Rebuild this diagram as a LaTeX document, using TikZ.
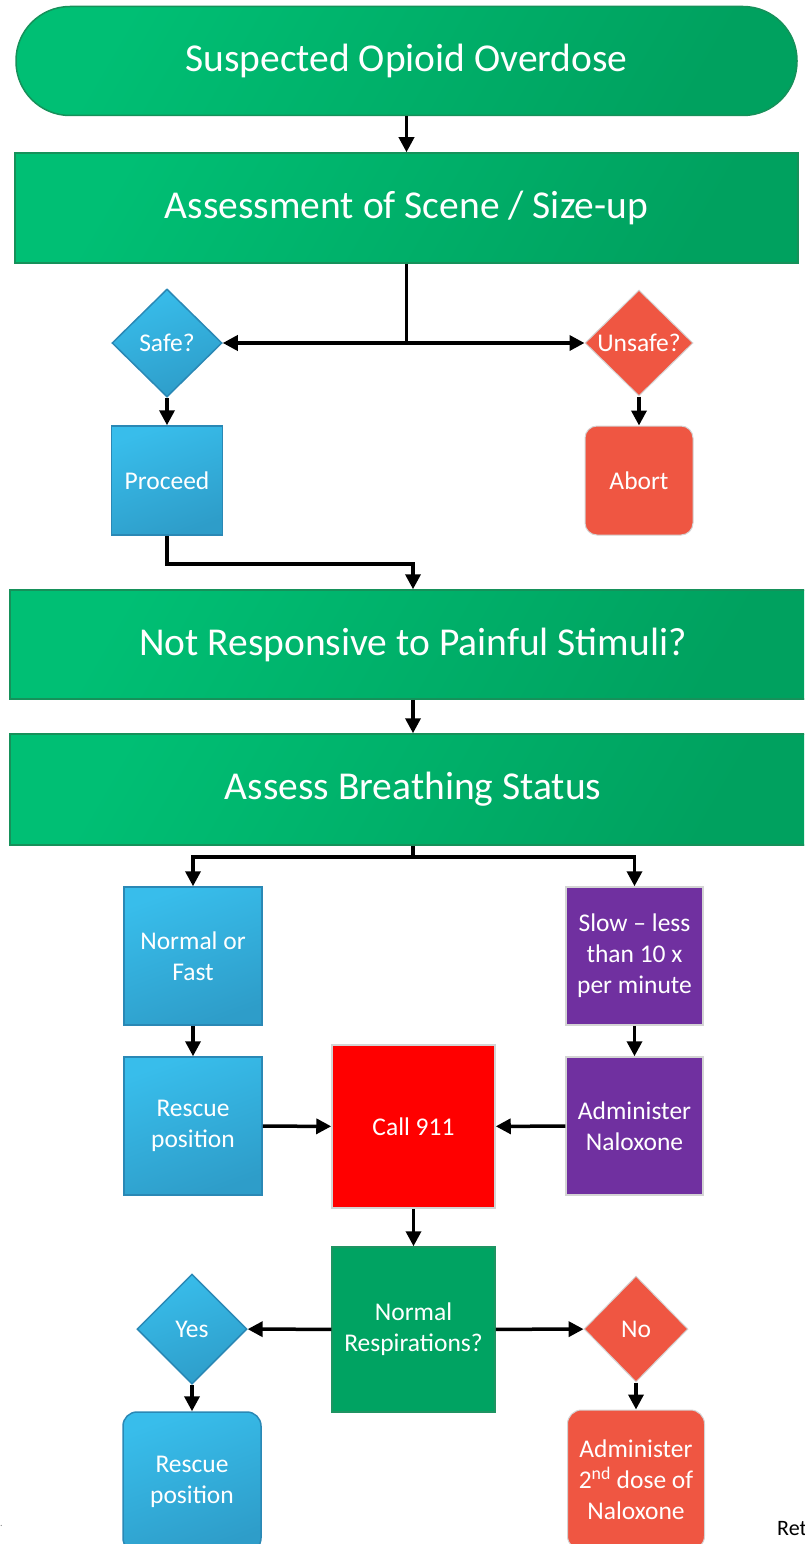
\documentclass[tikz,border=0pt]{standalone}
\usepackage{fontspec}
\setmainfont{Carlito}
\usetikzlibrary{shapes.geometric,arrows.meta}
\definecolor{gL}{HTML}{00BF74}
\definecolor{gD}{HTML}{00A15F}
\definecolor{gB}{HTML}{16915A}
\definecolor{nrF}{HTML}{00A362}
\definecolor{nrB}{HTML}{1E9462}
\definecolor{bL}{HTML}{38BDEB}
\definecolor{bD}{HTML}{2E9DC9}
\definecolor{bB}{HTML}{2A88B5}
\definecolor{orF}{HTML}{EF5642}
\definecolor{lgB}{HTML}{D4D4D4}
\definecolor{puF}{HTML}{7030A0}
\definecolor{rdF}{HTML}{FF0000}
\tikzset{
  big/.style={draw=gB, line width=1.5pt, top color=gL, bottom color=gD, shading angle=60,
    text=white, font=\fontsize{39.5}{46}\selectfont, inner sep=0pt},
  small/.style={text=white, font=\fontsize{25.5}{31}\selectfont, align=center, inner sep=0pt},
  bluebox/.style={small, draw=bB, line width=1.5pt, top color=bL, bottom color=bD, shading angle=20},
  orbox/.style={small, draw=lgB, line width=1pt, fill=orF},
  purbox/.style={small, draw=lgB, line width=1.5pt, fill=puF},
  redbox/.style={small, draw=lgB, line width=1.5pt, fill=rdF},
  nrbox/.style={small, draw=nrB, line width=1.5pt, fill=nrF},
  dia/.style={shape=diamond, inner sep=0pt},
  arr/.style={line width=3.5pt, -{Triangle[length=15pt,width=15pt]}},
  conn/.style={line width=3.5pt},
}
\begin{document}
\begin{tikzpicture}[x=1pt,y=-1pt]
\useasboundingbox (0,0) rectangle (804,1544);
\clip (0,0) rectangle (804,1544);
% nodes
\node[big, rounded corners=54pt, minimum width=781pt, minimum height=109pt] (start) at (406.5,61) {Suspected Opioid Overdose};
\node[big, minimum width=783pt, minimum height=110pt] (assess) at (406.5,208) {Assessment of Scene / Size-up};
\node[bluebox, dia, minimum width=110pt, minimum height=108pt] (safe) at (167,343) {Safe?};
\node[orbox, dia, minimum width=108pt, minimum height=106pt] (unsafe) at (639,343) {Unsafe?};
\node[bluebox, minimum width=111pt, minimum height=109pt] (proceed) at (167,480.5) {Proceed};
\node[orbox, rounded corners=12pt, minimum width=108pt, minimum height=109pt] (abort) at (639,480.5) {Abort};
\node[big, minimum width=806pt, minimum height=109pt] (resp) at (413,644.5) {Not Responsive to Painful Stimuli?};
\node[big, minimum width=806pt, minimum height=111pt] (breath) at (413,789.5) {Assess Breathing Status};
\node[bluebox, minimum width=138pt, minimum height=138pt] (nf) at (193,956) {Normal or\\Fast};
\node[purbox, minimum width=137pt, minimum height=138pt] (slow) at (634.5,956) {Slow -- less\\than 10 x\\per minute};
\node[bluebox, minimum width=138pt, minimum height=138pt] (rescue1) at (193,1126) {Rescue\\position};
\node[purbox, minimum width=137pt, minimum height=138pt] (nalox) at (634.5,1126) {Administer\\Naloxone};
\node[redbox, minimum width=163pt, minimum height=163pt] (call) at (413.5,1126.5) {Call 911};
\node[nrbox, minimum width=163pt, minimum height=165pt] (normr) at (413.5,1329.5) {Normal\\Respirations?};
\node[bluebox, dia, minimum width=110pt, minimum height=110pt] (yes) at (192,1329) {Yes};
\node[orbox, dia, minimum width=104pt, minimum height=106pt] (no) at (636,1329) {No};
\node[bluebox, rounded corners=14pt, minimum width=138pt, minimum height=140pt] (rescue2) at (192,1482) {Rescue\\position};
\node[orbox, rounded corners=14pt, minimum width=137pt, minimum height=140pt] (admin2) at (636,1480) {Administer\\2\textsuperscript{nd} dose of\\Naloxone};
\node[anchor=base west, inner sep=0pt, font=\fontsize{22}{26}\selectfont] (ret) at (777,1535) {Ret};
\node[anchor=base west, inner sep=0pt, text=gray, font=\fontsize{10}{12}\selectfont] (dot) at (0,1526) {.};
% connectors
\coordinate (j1) at (406.5,343);
\coordinate (j2) at (413,857);
\draw[arr] (start) -- (assess);
\draw[conn] (assess.south) -- (j1);
\draw[arr] (j1) -- (safe.east);
\draw[arr] (j1) -- (unsafe.west);
\draw[arr] (safe) -- (proceed);
\draw[arr] (unsafe) -- (abort);
\draw[arr] (proceed.south) -- ++(0,28) -| (resp.north);
\draw[arr] (resp) -- (breath);
\draw[conn] (breath.south) -- (j2);
\draw[arr] (j2) -| (nf.north);
\draw[arr] (j2) -| (slow.north);
\draw[arr] (nf) -- (rescue1);
\draw[arr] (slow) -- (nalox);
\draw[arr] (rescue1) -- (call);
\draw[arr] (nalox) -- (call);
\draw[arr] (call) -- (normr);
\draw[arr] (normr) -- (yes);
\draw[arr] (normr) -- (no);
\draw[arr] (yes) -- (rescue2);
\draw[arr] (no) -- (admin2);
\end{tikzpicture}
\end{document}
